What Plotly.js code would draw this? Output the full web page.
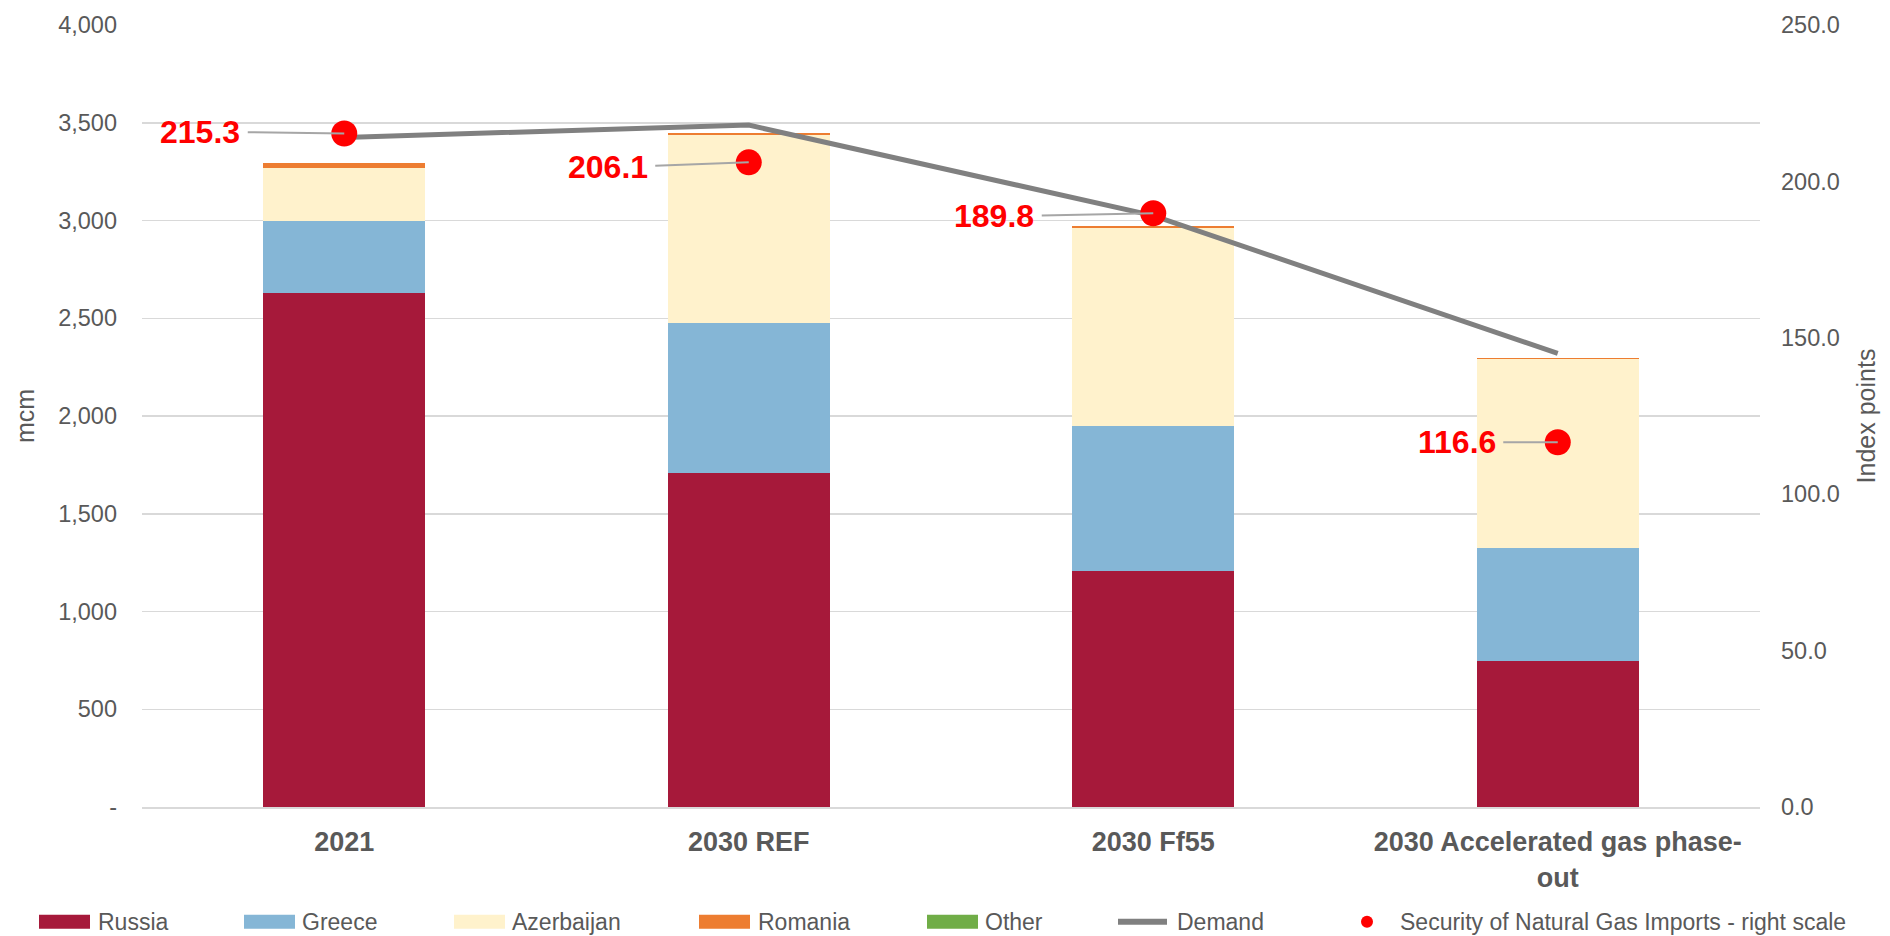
<!DOCTYPE html>
<html>
<head>
<meta charset="utf-8">
<script src="https://cdn.plot.ly/plotly-3.0.1.min.js"></script>
<style>html,body{margin:0;padding:0;background:#fff;}#chart{width:1890px;height:936px;}</style>
</head>
<body>
<div id="chart"></div>
<script>
// ---- data ----
const categories = ['2021', '2030 REF', '2030 Ff55', '2030 Accelerated gas phase-<br>out'];
const russia     = [2628, 1711, 1207, 745];
const greece     = [370, 763, 744, 578];
const azerbaijan = [272, 962, 1010, 967];
const romania    = [24, 12, 10, 5];
const other      = [0, 0, 0, 0];
const demand     = [3425, 3488, 3025, 2320];
const security   = [215.3, 206.1, 189.8, 116.6];
const leftTickVals  = [0, 500, 1000, 1500, 2000, 2500, 3000, 3500, 4000];
const leftTickText  = ['-', '500', '1,000', '1,500', '2,000', '2,500', '3,000', '3,500', '4,000'];
const rightTickVals = [0, 50, 100, 150, 200, 250];
const legendNames = ['Russia', 'Greece', 'Azerbaijan', 'Romania', 'Other', 'Demand', 'Security of Natural Gas Imports - right scale'];

// ---- styles ----
const FONT = '"Liberation Sans", Arial, sans-serif';
const GREY = '#595959';
const colors = {Russia: '#A6193A', Greece: '#85B6D6', Azerbaijan: '#FFF2CC', Romania: '#ED7D31', Other: '#70AD47'};

const L = 142, R = 130, T = 23, B = 129, W = 1890, H = 936;
const PW = W - L - R, PH = H - T - B;
const px2x = X => (X - L) / PW;
const px2y = Y => (H - B - Y) / PH;

function barTrace(name, vals) {
  return {type: 'bar', name: name, x: categories, y: vals, marker: {color: colors[name], line: {width: 0}},
          showlegend: false, hoverinfo: 'skip'};
}

const traces = [
  barTrace('Russia', russia),
  barTrace('Greece', greece),
  barTrace('Azerbaijan', azerbaijan),
  barTrace('Romania', romania),
  barTrace('Other', other),
  {type: 'scatter', mode: 'lines', name: 'Demand', x: categories, y: demand,
   line: {color: '#808080', width: 5}, showlegend: false, hoverinfo: 'skip'},
  {type: 'scatter', mode: 'markers', name: 'Security of Natural Gas Imports - right scale',
   x: categories, y: security, yaxis: 'y2',
   marker: {color: '#FF0000', size: 26}, showlegend: false, hoverinfo: 'skip'}
];

// label offsets (px) for the value callouts
const labelOffsets = [[-144, -2], [-141, 5], [-159, 3], [-101, 0]];
const annotations = security.map((v, i) => ({
  x: i, y: v, xref: 'x', yref: 'y2',
  text: v.toFixed(1), showarrow: true, arrowhead: 0, arrowwidth: 2, arrowcolor: '#A6A6A6',
  ax: labelOffsets[i][0], ay: labelOffsets[i][1], standoff: 0, startstandoff: 6,
  font: {family: FONT, size: 32, color: '#FF0000', weight: 'bold'}
}));

// custom legend
const legendY = 922;
const swatchX = [39, 244, 454, 699, 927];
const textX = [96, 300, 510, 756, 983, 1175, 1398];
const shapes = [];
['Russia', 'Greece', 'Azerbaijan', 'Romania', 'Other'].forEach((n, i) => {
  shapes.push({type: 'rect', xref: 'paper', yref: 'paper',
    x0: px2x(swatchX[i]), x1: px2x(swatchX[i] + 51), y0: px2y(legendY - 7), y1: px2y(legendY + 7),
    fillcolor: colors[n], line: {width: 0}});
});
shapes.push({type: 'line', xref: 'paper', yref: 'paper', x0: px2x(1118), x1: px2x(1167),
  y0: px2y(legendY), y1: px2y(legendY), line: {color: '#808080', width: 6}});
shapes.push({type: 'circle', xref: 'paper', yref: 'paper', x0: px2x(1361), x1: px2x(1373),
  y0: px2y(legendY - 6), y1: px2y(legendY + 6), fillcolor: '#FF0000', line: {width: 0}});
legendNames.forEach((n, i) => {
  annotations.push({xref: 'paper', yref: 'paper', x: px2x(textX[i]), y: px2y(legendY),
    xanchor: 'left', yanchor: 'middle', text: n, showarrow: false,
    font: {family: FONT, size: 23, color: GREY}});
});

const layout = {
  width: W, height: H,
  margin: {l: L, r: R, t: T, b: B, pad: 0},
  paper_bgcolor: '#fff', plot_bgcolor: '#fff',
  font: {family: FONT, color: GREY, size: 23},
  barmode: 'stack', bargap: 0.6,
  showlegend: false, hovermode: false,
  xaxis: {type: 'category', range: [-0.5, 3.5], ticks: '', showgrid: false, showline: true, linecolor: '#D9D9D9', linewidth: 2,
          tickfont: {family: FONT, size: 27, color: GREY, weight: 'bold'}, ticklabelstandoff: 10, automargin: false},
  yaxis: {range: [0, 4000], tickvals: leftTickVals, ticktext: leftTickText, ticks: '',
          showgrid: true, gridcolor: '#D9D9D9', gridwidth: 1.5, zeroline: false, showline: false,
          tickfont: {family: FONT, size: 23.5, color: GREY}, ticklabelstandoff: 24,
          title: {text: 'mcm', font: {family: FONT, size: 25, color: GREY}, standoff: 16}, automargin: true},
  yaxis2: {range: [0, 250], overlaying: 'y', side: 'right', tickvals: rightTickVals, tickformat: '.1f', ticks: '',
           showgrid: false, zeroline: false, showline: false,
           tickfont: {family: FONT, size: 23.5, color: GREY}, ticklabelstandoff: 20,
           title: {text: 'Index points', font: {family: FONT, size: 25, color: GREY}, standoff: 18}, automargin: true},
  annotations: annotations,
  shapes: shapes
};

Plotly.newPlot('chart', traces, layout, {staticPlot: true, displayModeBar: false});
</script>
</body>
</html>
